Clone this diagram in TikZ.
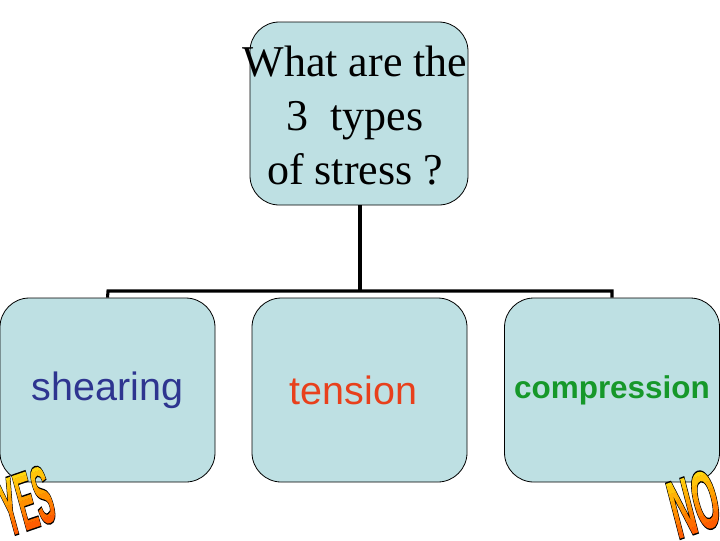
\documentclass[tikz,border=0pt]{standalone}
\usepackage{fontspec}
\setmainfont{Liberation Serif}
\newfontfamily\arialf{Liberation Sans}
\definecolor{boxfill}{HTML}{BEE0E3}
\definecolor{shearc}{HTML}{2E3590}
\definecolor{tensc}{HTML}{E8401C}
\definecolor{compc}{HTML}{16982A}
\newcommand\gradtext[1]{\special{pdf:literal direct 6 Tr 1.3 w 0 G}#1\special{pdf:literal 0 Tr
 1 0.30 0 rg -90 -5 100 4.5 re f
 1 0.36 0 rg -90 -0.6 100 3.5 re f
 1 0.42 0 rg -90 2.8 100 3.5 re f
 1 0.49 0 rg -90 6.2 100 3.5 re f
 1 0.56 0 rg -90 9.6 100 3.5 re f
 1 0.63 0 rg -90 13 100 3.5 re f
 1 0.70 0.02 rg -90 16.4 100 3.5 re f
 1 0.77 0.04 rg -90 19.8 100 3.5 re f
 1 0.84 0.06 rg -90 23.2 100 3.5 re f
 1 0.90 0.08 rg -90 26.6 100 3.5 re f
 1 0.95 0.1 rg -90 30 100 6 re f}}
\begin{document}
\begin{tikzpicture}[x=0.75pt,y=-0.75pt,
  box/.style={draw=black, line width=0.6pt, fill=boxfill, rounded corners=22pt, minimum width=215*0.75pt, minimum height=184*0.75pt, inner sep=0pt},
  conn/.style={line width=2.3pt},
  yesw/.style={font=\arialf\bfseries\fontsize{36}{36}\selectfont, rotate=19, xscale=0.55, yscale=1.7, xslant=0.2, inner sep=0pt},
  now/.style={font=\arialf\bfseries\fontsize{36}{36}\selectfont, rotate=19, xscale=0.68, yscale=1.7, xslant=0.2, inner sep=0pt}]
\useasboundingbox (0,0) rectangle (720,540);
\node[box, minimum width=218*0.75pt, minimum height=183*0.75pt] (top) at (359,113.5) {};
\node[align=center, inner sep=0pt, font=\fontsize{33}{40.5}\selectfont] (qtext) at (355,116) {What are the\\3\ \ types\\of stress ?};
\node[box, font=\arialf\fontsize{29.6}{30}\selectfont, text=shearc] (b1) at (107.5,390) {shearing};
\node[box, font=\arialf\fontsize{29.6}{30}\selectfont, text=tensc] (b2) at (359.5,390) {tension\kern9pt\relax};
\node[box, font=\arialf\bfseries\fontsize{23.6}{24}\selectfont, text=compc] (b3) at (612,390) {compression};
\coordinate (j) at (360,291);
\draw[conn] (top.south -| j) -- (j);
\draw[conn] (b1.north) -- (108,291) -- (612,291) -- (b3.north);
\begin{scope}
\node[yesw] (yes) at (26,501) {\gradtext{YES}};
\end{scope}
\begin{scope}
\node[now] (no) at (694,504) {\gradtext{NO}};
\end{scope}
\end{tikzpicture}
\end{document}
